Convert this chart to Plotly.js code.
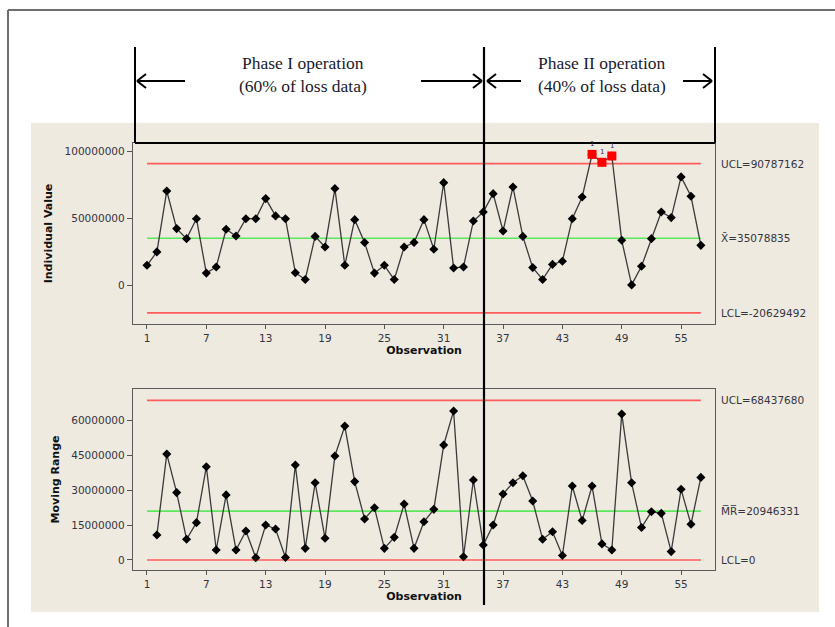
<!DOCTYPE html>
<html>
<head>
<meta charset="utf-8">
<script src="https://cdn.plot.ly/plotly-3.0.1.min.js"></script>
<style>
html,body{margin:0;padding:0;background:#fff;}
#chart{width:835px;height:627px;}
</style>
</head>
<body>
<div id="chart"></div>
<script>
// ---------- data ----------
const observations = Array.from({length: 57}, (_, i) => i + 1);
const individualValues = [
  14900000, 24900000, 70400000, 42300000, 34800000, 49700000, 9100000, 13700000, 41800000, 36800000,
  49700000, 49700000, 64700000, 51800000, 49700000, 9400000, 4300000, 36500000, 28600000, 72200000,
  14900000, 49000000, 31900000, 9100000, 14900000, 4300000, 28600000, 31900000, 49000000, 26900000,
  76600000, 12900000, 13700000, 48000000, 54700000, 68400000, 40500000, 73400000, 36500000, 13200000,
  4300000, 15600000, 17900000, 49700000, 65900000, 97700000, 91800000, 96500000, 33600000, 300000,
  14200000, 34800000, 54700000, 50500000, 80900000, 66400000, 29800000
];
const mrObservations = observations.slice(1);
const movingRanges = [
  10700000, 45400000, 28900000, 8900000, 16000000, 40000000, 4300000, 27900000, 4300000,
  12400000, 1000000, 15000000, 13300000, 1100000, 40700000, 5000000, 33100000, 9300000, 44600000,
  57400000, 33600000, 17600000, 22400000, 5000000, 9700000, 24000000, 5000000, 16400000, 21700000,
  49300000, 63900000, 1400000, 34300000, 6400000, 15000000, 28300000, 33100000, 36100000, 25300000,
  8900000, 12100000, 1900000, 31700000, 16900000, 31700000, 6900000, 4300000, 62600000, 33100000,
  13900000, 20700000, 20000000, 3600000, 30300000, 15300000, 35400000
];
const iUCL = 90787162, iCL = 35078835, iLCL = -20629492;
const mrUCL = 68437680, mrCL = 20946331, mrLCL = 0;
const xTickVals = [1, 7, 13, 19, 25, 31, 37, 43, 49, 55];
const iTickVals = [0, 50000000, 100000000];
const mrTickVals = [0, 15000000, 30000000, 45000000, 60000000];
const phaseLabels = ["Phase I operation", "(60% of loss data)", "Phase II operation", "(40% of loss data)"];

// ---------- layout helpers ----------
const W = 835, H = 627;
const px = x => x / W;
const py = y => 1 - y / H;

const tickFont = {family: "DejaVu Sans", size: 10.5, color: "#34343f"};
const titleFont = {family: "DejaVu Sans", size: 11, color: "#111"};
const RED = "#ff5c5c", GREEN = "#5ce85c";

const flagged = individualValues.map(v => v > iUCL || v < iLCL);
const flagX = observations.filter((o, i) => flagged[i]);
const flagY = individualValues.filter((v, i) => flagged[i]);

const traces = [
  {
    x: observations, y: individualValues, xaxis: "x", yaxis: "y",
    mode: "lines+markers", type: "scatter",
    line: {color: "#3a3a3a", width: 1.3},
    marker: {symbol: "diamond", color: "#000000", size: 7, opacity: 1, line: {width: 0}},
    hoverinfo: "x+y"
  },
  {
    x: flagX, y: flagY, xaxis: "x", yaxis: "y",
    mode: "markers", type: "scatter",
    marker: {symbol: "square", color: "#ff0000", size: 9, opacity: 1, line: {width: 0}},
    hoverinfo: "x+y"
  },
  {
    x: mrObservations, y: movingRanges, xaxis: "x2", yaxis: "y2",
    mode: "lines+markers", type: "scatter",
    line: {color: "#3a3a3a", width: 1.3},
    marker: {symbol: "diamond", color: "#000000", size: 7, opacity: 1, line: {width: 0}},
    hoverinfo: "x+y"
  }
];

const xFirst = observations[0], xLast = observations[observations.length - 1];
const ctrl = (y, color, xr, yr) => ({type: "line", xref: xr, yref: yr, x0: xFirst, x1: xLast, y0: y, y1: y,
  line: {color: color, width: 1.6}, layer: "below"});

const blackLine = (x0, y0, x1, y1, w) => ({type: "line", xref: "paper", yref: "paper",
  x0: px(x0), y0: py(y0), x1: px(x1), y1: py(y1), line: {color: "#000", width: w || 2}, layer: "above"});

function arrow(xTail, xHead, y) {
  const d = xHead > xTail ? -1 : 1;
  return [
    blackLine(xTail, y, xHead, y, 2),
    blackLine(xHead, y, xHead + d * 9, y - 7, 2),
    blackLine(xHead, y, xHead + d * 9, y + 7, 2)
  ];
}

const shapes = [
  // outer frame
  {type: "line", xref: "paper", yref: "paper", x0: px(8), y0: py(10), x1: 1, y1: py(10), line: {color: "#6e6e6e", width: 2}},
  {type: "line", xref: "paper", yref: "paper", x0: px(8), y0: py(10), x1: px(8), y1: 0, line: {color: "#6e6e6e", width: 2}},
  // beige panel
  {type: "rect", xref: "paper", yref: "paper", x0: px(31), x1: px(819), y0: py(612), y1: py(123),
   fillcolor: "#eeeae0", line: {width: 0}, layer: "below"},
  // control lines
  ctrl(iUCL, RED, "x", "y"), ctrl(iCL, GREEN, "x", "y"), ctrl(iLCL, RED, "x", "y"),
  ctrl(mrUCL, RED, "x2", "y2"), ctrl(mrCL, GREEN, "x2", "y2"), ctrl(mrLCL, RED, "x2", "y2"),
  // phase dividers
  blackLine(135, 47, 135, 143, 2),
  blackLine(484, 47, 484, 605, 2.2),
  blackLine(715, 47, 715, 143, 2),
  blackLine(135, 143, 715, 143, 2),
  ...arrow(185, 137, 81),
  ...arrow(421, 482, 81),
  ...arrow(521, 487, 81),
  ...arrow(683, 712, 81)
];

const rightLbl = (text, y, yr) => ({xref: "paper", yref: yr, x: px(719), y: y, xanchor: "left", yanchor: "middle",
  text: text, showarrow: false, font: tickFont});
const phaseLbl = (text, x, y) => ({xref: "paper", yref: "paper", x: px(x), y: py(y), xanchor: "center", yanchor: "middle",
  text: text, showarrow: false, font: {family: "Liberation Serif", size: 17.5, color: "#1a1a2a"}});

const annotations = [
  rightLbl("UCL=90787162", iUCL, "y"),
  rightLbl("X\u0304=35078835", iCL, "y"),
  rightLbl("LCL=-20629492", iLCL, "y"),
  rightLbl("UCL=68437680", mrUCL, "y2"),
  rightLbl("M\u0305R\u0305=20946331", mrCL, "y2"),
  rightLbl("LCL=0", mrLCL, "y2"),
  phaseLbl(phaseLabels[0], 303, 63),
  phaseLbl(phaseLabels[1], 303, 86),
  phaseLbl(phaseLabels[2], 602, 63),
  phaseLbl(phaseLabels[3], 602, 86)
];
flagX.forEach((o, i) => {
  annotations.push({xref: "x", yref: "y", x: o, y: flagY[i], yshift: 10,
    text: "1", showarrow: false, font: {family: "DejaVu Sans", size: 7, color: "#334"}});
});

const xAxisCommon = {
  domain: [px(133), px(715)], range: [-0.415, 58.43],
  tickmode: "array", tickvals: xTickVals, ticks: "outside", ticklen: 4, tickcolor: "#555",
  showline: true, mirror: true, linecolor: "#5a5a5a", linewidth: 1.2,
  showgrid: false, zeroline: false, tickfont: tickFont,
  title: {text: "<b>Observation</b>", font: titleFont, standoff: 3}
};
const yAxisCommon = {
  ticks: "outside", ticklen: 5, tickcolor: "#555",
  showline: true, mirror: true, linecolor: "#5a5a5a", linewidth: 1.2,
  showgrid: false, zeroline: false, tickfont: tickFont, tickformat: "d", tickmode: "array"
};

const layout = {
  width: W, height: H,
  margin: {l: 0, r: 0, t: 0, b: 0},
  paper_bgcolor: "#ffffff", plot_bgcolor: "#ffffff",
  showlegend: false,
  xaxis: Object.assign({}, xAxisCommon, {anchor: "y"}),
  xaxis2: Object.assign({}, xAxisCommon, {anchor: "y2"}),
  yaxis: Object.assign({}, yAxisCommon, {anchor: "x", domain: [py(324), py(143)],
    range: [-28900000, 106200000], tickvals: iTickVals,
    title: {text: "<b>Individual Value</b>", font: titleFont, standoff: 9}}),
  yaxis2: Object.assign({}, yAxisCommon, {anchor: "x2", domain: [py(570), py(389)],
    range: [-4290000, 73300000], tickvals: mrTickVals,
    title: {text: "<b>Moving Range</b>", font: titleFont, standoff: 9}}),
  shapes: shapes,
  annotations: annotations
};

Plotly.newPlot("chart", traces, layout, {displayModeBar: false, staticPlot: true});
</script>
</body>
</html>
